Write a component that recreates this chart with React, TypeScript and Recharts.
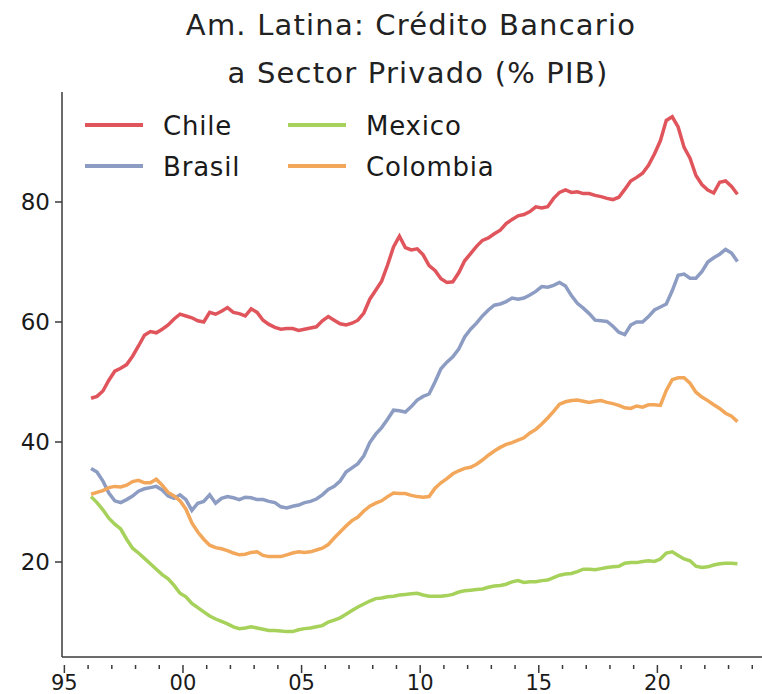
import React from 'react'
import { LineChart, Line, XAxis, YAxis } from 'recharts'

/* Quarterly observations, 1996 Q1 – 2023 Q2 (position = mid-quarter, in years) */
const firstQuarter = 1996.125
const chile = [
  47.3, 47.6, 48.5, 50.3, 51.8, 52.3, 52.9, 54.3, 56.0, 57.8,
  58.4, 58.2, 58.8, 59.5, 60.5, 61.3, 61.0, 60.7, 60.2, 60.0,
  61.6, 61.3, 61.8, 62.4, 61.6, 61.4, 61.0, 62.2, 61.6, 60.3,
  59.6, 59.1, 58.8, 58.9, 58.9, 58.6, 58.8, 59.0, 59.2, 60.2,
  60.9, 60.3, 59.7, 59.5, 59.8, 60.3, 61.5, 63.8, 65.3, 66.8,
  69.5, 72.5, 74.3, 72.4, 72.0, 72.2, 71.2, 69.4, 68.6, 67.2,
  66.6, 66.7, 68.2, 70.2, 71.4, 72.6, 73.6, 74.0, 74.7, 75.3,
  76.4, 77.1, 77.7, 77.9, 78.4, 79.2, 79.0, 79.2, 80.6, 81.6,
  82.0, 81.6, 81.7, 81.4, 81.4, 81.1, 80.9, 80.6, 80.4, 80.8,
  82.1, 83.5, 84.1, 84.8, 86.1, 88.0, 90.2, 93.6, 94.2, 92.5,
  89.1, 87.3, 84.4, 82.9, 82.0, 81.5, 83.3, 83.5, 82.6, 81.3,
]
const brasil = [
  35.6, 35.0, 33.5, 31.5, 30.2, 29.9, 30.4, 31.0, 31.8, 32.2,
  32.4, 32.6, 32.0, 31.0, 30.6, 31.2, 30.4, 28.6, 29.8, 30.1,
  31.2, 29.8, 30.6, 30.9, 30.7, 30.4, 30.8, 30.7, 30.4, 30.4,
  30.1, 29.9, 29.2, 29.0, 29.3, 29.5, 29.9, 30.1, 30.5, 31.2,
  32.1, 32.6, 33.5, 35.0, 35.7, 36.4, 37.7, 39.9, 41.3, 42.4,
  43.8, 45.3, 45.2, 45.0, 45.9, 47.0, 47.6, 48.0, 50.0, 52.2,
  53.3, 54.2, 55.5, 57.5, 58.8, 59.8, 61.0, 62.0, 62.8, 63.0,
  63.4, 64.0, 63.8, 64.0, 64.5, 65.1, 65.9, 65.8, 66.1, 66.6,
  66.0, 64.4, 63.1, 62.3, 61.4, 60.3, 60.2, 60.1, 59.3, 58.3,
  57.9, 59.5, 60.0, 60.0, 60.9, 62.0, 62.5, 63.0, 65.2, 67.8,
  68.0, 67.3, 67.3, 68.4, 70.0, 70.7, 71.3, 72.1, 71.5, 70.1,
]
const mexico = [
  30.9, 29.9, 28.7, 27.3, 26.3, 25.5, 23.8, 22.3, 21.5, 20.6,
  19.7, 18.8, 17.9, 17.2, 16.1, 14.8, 14.2, 13.1, 12.4, 11.7,
  11.0, 10.5, 10.1, 9.7, 9.2, 8.9, 9.0, 9.2, 9.0, 8.8,
  8.6, 8.6, 8.5, 8.4, 8.4, 8.7, 8.9, 9.0, 9.2, 9.4,
  10.0, 10.3, 10.7, 11.3, 11.9, 12.5, 13.0, 13.5, 13.9, 14.0,
  14.2, 14.3, 14.5, 14.6, 14.7, 14.8, 14.5, 14.3, 14.3, 14.3,
  14.4, 14.6, 15.0, 15.2, 15.3, 15.4, 15.5, 15.8, 16.0, 16.1,
  16.3, 16.7, 16.9, 16.6, 16.7, 16.7, 16.9, 17.0, 17.4, 17.8,
  18.0, 18.1, 18.4, 18.8, 18.8, 18.7, 18.9, 19.1, 19.2, 19.3,
  19.8, 19.9, 19.9, 20.1, 20.2, 20.1, 20.5, 21.5, 21.7, 21.1,
  20.5, 20.2, 19.3, 19.1, 19.2, 19.5, 19.7, 19.8, 19.8, 19.7,
]
const colombia = [
  31.3, 31.6, 31.9, 32.4, 32.6, 32.5, 32.8, 33.4, 33.6, 33.2,
  33.2, 33.8, 32.8, 31.6, 31.0, 30.2, 28.8, 26.5, 25.0, 23.8,
  22.8, 22.4, 22.2, 21.9, 21.5, 21.2, 21.3, 21.6, 21.7, 21.1,
  20.9, 20.9, 20.9, 21.2, 21.5, 21.7, 21.6, 21.7, 22.0, 22.3,
  22.9, 24.0, 25.0, 26.0, 26.9, 27.5, 28.5, 29.3, 29.8, 30.2,
  30.9, 31.5, 31.4, 31.4, 31.1, 30.9, 30.8, 30.9, 32.3, 33.2,
  33.9, 34.7, 35.2, 35.6, 35.8, 36.3, 37.0, 37.8, 38.5, 39.1,
  39.6, 39.9, 40.3, 40.7, 41.5, 42.1, 43.0, 44.0, 45.1, 46.3,
  46.7, 46.9, 47.0, 46.8, 46.6, 46.8, 46.9, 46.6, 46.4, 46.1,
  45.7, 45.6, 46.0, 45.8, 46.2, 46.2, 46.1, 48.6, 50.4, 50.7,
  50.7, 49.8, 48.3, 47.5, 46.9, 46.2, 45.6, 44.8, 44.3, 43.4,
]

const yearTicks = [1995, 1996, 1997, 1998, 1999, 2000, 2001, 2002, 2003, 2004, 2005,
  2006, 2007, 2008, 2009, 2010, 2011, 2012, 2013, 2014, 2015, 2016, 2017, 2018,
  2019, 2020, 2021, 2022, 2023, 2024]
const labelledYears = [1995, 2000, 2005, 2010, 2015, 2020]
const valueTicks = [20, 40, 60, 80]

const series = [
  { key: 'chile', name: 'Chile', color: '#e0555c' },
  { key: 'brasil', name: 'Brasil', color: '#8c9cc2' },
  { key: 'mexico', name: 'Mexico', color: '#a6d15a' },
  { key: 'colombia', name: 'Colombia', color: '#f2a75b' },
]

const rows = chile.map((v, i) => ({
  t: firstQuarter + i * 0.25,
  chile: v,
  brasil: brasil[i],
  mexico: mexico[i],
  colombia: colombia[i],
}))

const FONT = "'DejaVu Sans', 'Open Sans', sans-serif"
const AXIS = '#3a3a3a'
const INK = '#1a1a1a'

function YearTick({ x, y, payload }: any) {
  const major = labelledYears.includes(payload.value)
  return (
    <g>
      <line x1={x} x2={x} y1={y} y2={y + (major ? 8 : 4)} stroke={AXIS} strokeWidth={1.5} />
      {major && (
        <text x={x} y={y + 25} textAnchor="middle" fontSize={21} fill={INK} fontFamily={FONT}>
          {String(payload.value % 100).padStart(2, '0')}
        </text>
      )}
    </g>
  )
}

// legend in two columns: Chile/Brasil, Mexico/Colombia
const legendCells = [
  { s: series[0], x: 85, y: 125 },
  { s: series[1], x: 85, y: 166 },
  { s: series[2], x: 288, y: 125 },
  { s: series[3], x: 288, y: 166 },
]

export default function App() {
  return (
    <div style={{ position: 'absolute', left: 0, top: 0, width: 762, height: 694, background: '#fff' }}>
      <LineChart width={762} height={694} data={rows} margin={{ top: 92, right: 0, bottom: 0, left: 0 }}>
        <XAxis
          dataKey="t"
          type="number"
          domain={[1994.9, 2024.41]}
          ticks={yearTicks}
          interval={0}
          tick={<YearTick />}
          tickLine={false}
          height={37}
          stroke={AXIS}
          strokeWidth={1.5}
          allowDataOverflow
        />
        <YAxis
          type="number"
          domain={[4.17, 98.33]}
          ticks={valueTicks}
          width={62}
          tickSize={7}
          tickMargin={5}
          stroke={AXIS}
          strokeWidth={1.5}
          tick={{ fontSize: 23, fill: INK, fontFamily: FONT }}
          allowDataOverflow
        />
        {series.map(s => (
          <Line
            key={s.key}
            dataKey={s.key}
            name={s.name}
            stroke={s.color}
            strokeWidth={3.5}
            dot={false}
            type="linear"
            isAnimationActive={false}
          />
        ))}
      </LineChart>
      <svg width={762} height={200} style={{ position: 'absolute', left: 0, top: 0, pointerEvents: 'none' }}>
        <g fontFamily={FONT} fill="#222" textAnchor="middle" fontSize={29} letterSpacing={1.2}>
          <text x={411} y={35}>Am. Latina: Crédito Bancario</text>
          <text x={418} y={83}>a Sector Privado (% PIB)</text>
        </g>
        {legendCells.map(({ s, x, y }) => (
          <g key={s.key}>
            <line x1={x} x2={x + 58} y1={y} y2={y} stroke={s.color} strokeWidth={4} />
            <text x={x + 78} y={y + 10} fontSize={26} letterSpacing={0.8} fill={INK} fontFamily={FONT}>
              {s.name}
            </text>
          </g>
        ))}
      </svg>
    </div>
  )
}
